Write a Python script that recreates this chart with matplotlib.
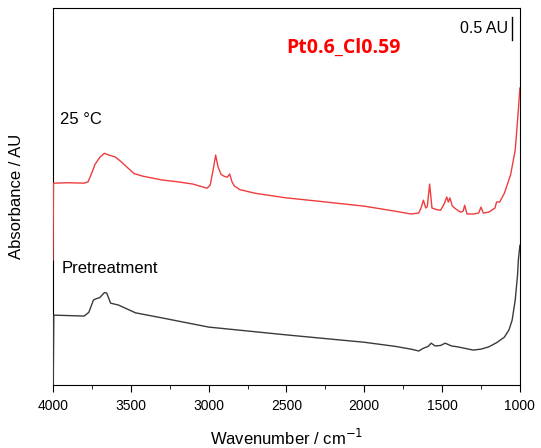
"""
DRIFTS spectra of Pt0.6_Cl0.59: pretreatment vs 25 °C.
Output: out.png
"""

import matplotlib
matplotlib.use("Agg")
import matplotlib.pyplot as plt
from matplotlib.ticker import MultipleLocator

plt.rcParams["font.family"] = ["Liberation Sans", "DejaVu Sans"]

# ── Spectrum at 25 °C (offset, AU) ─────────────────────────────────────────
wn_25c = [4000, 3997, 3900, 3800, 3775, 3750, 3730, 3700, 3670, 3640, 3600,
          3560, 3525, 3480, 3420, 3390, 3300, 3200, 3100, 3010, 2990, 2970,
          2955, 2940, 2920, 2900, 2880, 2865, 2850, 2835, 2800, 2700, 2500,
          2300, 2000, 1800, 1700, 1650, 1635, 1620, 1605, 1595, 1580, 1565,
          1540, 1510, 1485, 1470, 1460, 1450, 1435, 1420, 1400, 1380, 1365,
          1355, 1340, 1300, 1265, 1250, 1235, 1200, 1160, 1150, 1130, 1100,
          1060, 1030, 1010, 1000]
abs_25c = [2.72, 4.39, 4.40, 4.39, 4.42, 4.62, 4.80, 4.95, 5.04, 5.00, 4.96,
           4.85, 4.74, 4.60, 4.54, 4.52, 4.46, 4.42, 4.37, 4.28, 4.35, 4.70,
           5.00, 4.75, 4.58, 4.54, 4.52, 4.59, 4.42, 4.33, 4.25, 4.17, 4.07,
           4.00, 3.89, 3.78, 3.72, 3.74, 3.85, 4.02, 3.85, 3.88, 4.37, 3.85,
           3.82, 3.80, 3.95, 4.09, 3.98, 4.07, 3.90, 3.85, 3.80, 3.76, 3.78,
           3.91, 3.72, 3.72, 3.74, 3.87, 3.74, 3.76, 3.85, 3.98, 3.98, 4.17,
           4.57, 5.11, 5.98, 6.46]

# ── Spectrum after pretreatment (AU) ───────────────────────────────────────
wn_pre = [4000, 3995, 3900, 3800, 3770, 3740, 3720, 3700, 3670, 3655, 3630,
          3580, 3470, 3300, 3000, 2500, 2000, 1800, 1700, 1650, 1620, 1590,
          1570, 1545, 1510, 1480, 1440, 1400, 1300, 1250, 1200, 1150, 1100,
          1070, 1050, 1030, 1015, 1010, 1000]
abs_pre = [-0.5, 1.52, 1.51, 1.50, 1.58, 1.85, 1.88, 1.90, 2.01, 2.00, 1.78,
           1.74, 1.57, 1.46, 1.26, 1.09, 0.93, 0.84, 0.78, 0.74, 0.80, 0.84,
           0.91, 0.85, 0.86, 0.91, 0.85, 0.83, 0.76, 0.78, 0.83, 0.92, 1.04,
           1.20, 1.41, 1.85, 2.40, 2.72, 3.04]

SCALE_BAR_AU = 0.5
SCALE_BAR_WN = 1053
SCALE_BAR_TOP = 8.0


def main() -> None:
    fig = plt.figure(figsize=(5.41, 4.48), dpi=100)
    ax = fig.add_axes([0.098, 0.1406, 0.863, 0.8415])

    ax.plot(wn_pre, abs_pre, color="#3a3a3a", lw=1.0, zorder=3)
    ax.plot(wn_25c, abs_25c, color="#f03c3c", lw=1.0, zorder=3)

    # scale bar
    ax.plot([SCALE_BAR_WN, SCALE_BAR_WN],
            [SCALE_BAR_TOP - SCALE_BAR_AU, SCALE_BAR_TOP],
            color="black", lw=1.0)
    ax.text(SCALE_BAR_WN + 22, SCALE_BAR_TOP - SCALE_BAR_AU / 2,
            f"{SCALE_BAR_AU} AU", ha="right", va="center", fontsize=11.5)

    ax.set_xlim(4000, 1000)
    ax.set_ylim(0, 8.2)
    ax.xaxis.set_major_locator(MultipleLocator(500))
    ax.xaxis.set_minor_locator(MultipleLocator(250))
    ax.tick_params(axis="x", which="both", direction="out", labelsize=10,
                   top=False, pad=5)
    ax.tick_params(axis="x", which="major", length=5)
    ax.tick_params(axis="x", which="minor", length=3)
    ax.set_yticks([])

    ax.set_xlabel("Wavenumber / cm$^{-1}$", fontsize=12, labelpad=11)
    ax.set_ylabel("Absorbance / AU", fontsize=12, labelpad=21)

    ax.text(0.015, 0.703, "25 °C", transform=ax.transAxes, fontsize=12,
            ha="left", va="center")
    ax.text(0.019, 0.31, "Pretreatment", transform=ax.transAxes, fontsize=12,
            ha="left", va="center")
    ax.text(0.621, 0.894, "Pt0.6_Cl0.59", transform=ax.transAxes,
            fontsize=14, fontweight="bold", color="#ff0000",
            ha="center", va="center", family=["Open Sans", "DejaVu Sans"])

    fig.savefig("out.png", dpi=100)
    plt.close(fig)


if __name__ == "__main__":
    main()
